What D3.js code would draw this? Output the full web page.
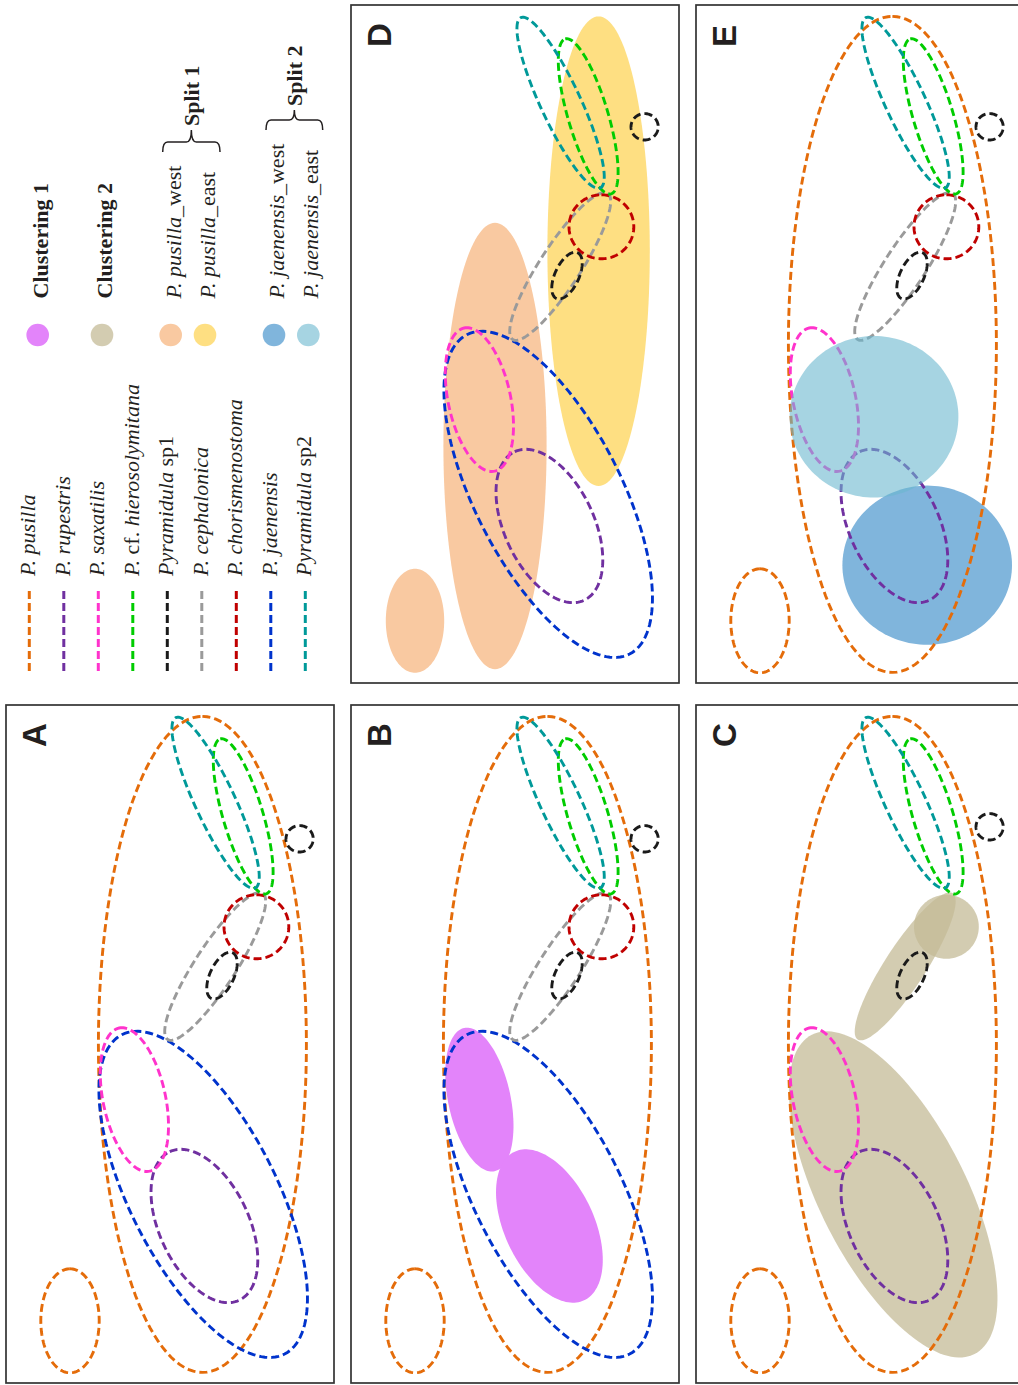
<!DOCTYPE html>
<html>
<head>
<meta charset="utf-8">
<script src="https://cdn.jsdelivr.net/npm/d3@7"></script>
<style>
  body { margin: 0; background: #fff; }
  svg { display: block; }
</style>
</head>
<body>
<div id="fig"></div>
<script>
// legend order of the species outlines
var species = ["P. pusilla", "P. rupestris", "P. saxatilis", "P. cf. hierosolymitana",
    "Pyramidula sp1", "P. cephalonica", "P. chorismenostoma", "P. jaenensis", "Pyramidula sp2"];

// ellipses in PC units: key, species, centre PC2, centre PC1, semi axis a, semi axis b, tilt of a (deg)
var ellipses = [
    ["pus1", "P. pusilla", 0.81, -0.01, 8.20, 2.60, 0],
    ["pus2", "P. pusilla", -2.50, -6.92, 1.30, 0.73, 0],
    ["jae", "P. jaenensis", 0.83, -3.76, 4.48, 1.83, -27],
    ["rup", "P. rupestris", 0.86, -4.55, 2.05, 1.12, -25],
    ["sax", "P. saxatilis", -0.89, -1.39, 1.83, 0.78, -12],
    ["ceph", "P. cephalonica", 1.13, 1.94, 2.18, 0.51, 33],
    ["chor", "P. chorismenostoma", 2.16, 2.93, 0.80, 0.81, 0],
    ["sp1b", "Pyramidula sp1", 1.30, 1.71, 0.63, 0.30, 25],
    ["sp1a", "Pyramidula sp1", 3.24, 5.13, 0.33, 0.34, 0],
    ["sp1c", "Pyramidula sp1", 3.24, 5.43, 0.33, 0.34, 0],
    ["hie", "P. cf. hierosolymitana", 1.83, 5.69, 2.02, 0.50, -16.5],
    ["sp2", "Pyramidula sp2", 1.14, 6.03, 2.35, 0.50, -25],
    ["pw", "P. pusilla_west", -0.50, -2.55, 5.58, 1.29, 0],
    ["pe", "P. pusilla_east", 2.09, 2.32, 5.87, 1.28, 0],
    ["jw", "P. jaenensis_west", 1.68, -5.53, 1.99, 2.12, 0],
    ["je", "P. jaenensis_east", 0.35, -1.82, 2.02, 2.11, 0]
];

// filled groups and the ellipses they cover
var groups = ["Clustering 1", "Clustering 2", "P. pusilla_west", "P. pusilla_east",
    "P. jaenensis_west", "P. jaenensis_east"];
var groupMembers = [
    ["Clustering 1", "sax"], ["Clustering 1", "rup"],
    ["Clustering 2", "jae"], ["Clustering 2", "ceph"], ["Clustering 2", "chor"],
    ["P. pusilla_west", "pw"], ["P. pusilla_west", "pus2"],
    ["P. pusilla_east", "pe"],
    ["P. jaenensis_west", "jw"],
    ["P. jaenensis_east", "je"]
];

var panelIds = ["A", "B", "C", "D", "E"];
var panelOutlines = {
    A: ["pus1", "pus2", "jae", "rup", "sax", "ceph", "chor", "sp1b", "sp1a", "hie", "sp2"],
    B: ["pus1", "pus2", "jae", "ceph", "chor", "sp1b", "sp1a", "hie", "sp2"],
    C: ["pus1", "pus2", "rup", "sax", "sp1b", "sp1c", "hie", "sp2"],
    D: ["jae", "rup", "sax", "ceph", "chor", "sp1b", "sp1c", "hie", "sp2"],
    E: ["pus1", "pus2", "rup", "sax", "ceph", "chor", "sp1b", "sp1c", "hie", "sp2"]
};
var panelFills = {
    A: [], B: ["Clustering 1"], C: ["Clustering 2"],
    D: ["P. pusilla_west", "P. pusilla_east"],
    E: ["P. jaenensis_west", "P. jaenensis_east"]
};

// styles
var lineColor = d3.scaleOrdinal().domain(species)
    .range(["#e46c0a", "#7030a0", "#ff33cc", "#00cc00", "#1a1a1a", "#9a9a9a", "#c00000", "#0033cc", "#009999"]);
var fillStyle = {
    "Clustering 1": { color: "#e384fa", opacity: 1 },
    "Clustering 2": { color: "#c4bb97", opacity: 0.75 },
    "P. pusilla_west": { color: "#f9c9a1", opacity: 1 },
    "P. pusilla_east": { color: "#fedf82", opacity: 1 },
    "P. jaenensis_west": { color: "#80b5dc", opacity: 1 },
    "P. jaenensis_east": { color: "#6bb7cf", opacity: 0.6, onTop: true }
};

var W = 1018, H = 1385, PW = 328, PH = 678;
var panelPos = { A: [6, 705], B: [351, 705], C: [696, 705], D: [351, 5], E: [696, 5] };

var svg = d3.select("#fig").append("svg").attr("width", W).attr("height", H);

var x = d3.scaleLinear().domain([-4.1, 4.1]).range([0, PW]);
var y = d3.scaleLinear().domain([8.475, -8.475]).range([0, PH]);

var byKey = {};
ellipses.forEach(function (e) {
    byKey[e[0]] = { key: e[0], sp: e[1], cx: e[2], cy: e[3], a: e[4], b: e[5], tilt: e[6] };
});

var line = d3.line().x(d => x(d[0])).y(d => y(d[1])).curve(d3.curveLinearClosed);
function ellipsePath(e) {
    var t = e.tilt * Math.PI / 180, pts = [];
    for (var i = 0; i < 144; i++) {
        var th = i / 144 * 2 * Math.PI;
        pts.push([e.cx + e.a * Math.cos(th) * Math.sin(t) + e.b * Math.sin(th) * Math.cos(t),
                  e.cy + e.a * Math.cos(th) * Math.cos(t) - e.b * Math.sin(th) * Math.sin(t)]);
    }
    return line(pts);
}

var serif = "'Liberation Serif', 'Times New Roman', serif";

function labelParts(name) {
    if (name.indexOf("cf.") >= 0) return [["P. ", true], ["cf. ", false], [name.split("cf. ")[1], true]];
    if (name.indexOf("Pyramidula") == 0) return [["Pyramidula", true], [name.slice(10), false]];
    if (name.indexOf("_") >= 0) {
        var k = name.indexOf("_");
        return [[name.slice(0, k), true], [name.slice(k), false]];
    }
    if (name.indexOf("P. ") == 0) return [[name, true]];
    return [[name, false, true]];
}

function vText(g, tx, ty, parts, size, bold) {
    var t = g.append("text")
        .attr("transform", "translate(" + tx + "," + ty + ") rotate(-90)")
        .attr("font-family", serif)
        .attr("font-size", size)
        .attr("fill", "#231f20");
    parts.forEach(function (p) {
        t.append("tspan").text(p[0])
            .attr("font-style", p[1] ? "italic" : "normal")
            .attr("font-weight", (bold || p[2]) ? "bold" : "normal");
    });
    return t;
}

// ---- legend ----
var legend = svg.append("g");
var lx = d3.scalePoint().domain(species).range([29.3, 305.3]);
species.forEach(function (s) {
    legend.append("line")
        .attr("x1", lx(s)).attr("x2", lx(s))
        .attr("y1", 591).attr("y2", 672)
        .attr("stroke", lineColor(s))
        .attr("stroke-width", 3)
        .attr("stroke-dasharray", "8,4");
    vText(legend, lx(s) + 6, 576, labelParts(s), 22);
});

var legendX = [37.7, 102, 170.7, 205, 274, 308.3];
groups.forEach(function (gname, i) {
    legend.append("circle")
        .attr("cx", legendX[i]).attr("cy", 335).attr("r", 11.3)
        .attr("fill", fillStyle[gname].color)
        .attr("fill-opacity", fillStyle[gname].opacity);
    vText(legend, legendX[i] + 9.8, 298.5, labelParts(gname), 22);
});

function brace(x1, x2, y0, y1, y2, label) {
    var xm = (x1 + x2) / 2, r = 5;
    var d = "M" + x1 + "," + y0 + " Q" + x1 + "," + y1 + " " + (x1 + r) + "," + y1 +
        " L" + (xm - r) + "," + y1 + " Q" + xm + "," + y1 + " " + xm + "," + y2 +
        " Q" + xm + "," + y1 + " " + (xm + r) + "," + y1 +
        " L" + (x2 - r) + "," + y1 + " Q" + x2 + "," + y1 + " " + x2 + "," + y0;
    legend.append("path").attr("d", d)
        .attr("fill", "none").attr("stroke", "#231f20").attr("stroke-width", 1.5);
    vText(legend, xm + 7.8, y2 - 4, [[label, false]], 22, true);
}
brace(legendX[2] - 8, legendX[3] + 15, 152, 142, 130, "Split 1");
brace(legendX[4] - 8, legendX[5] + 14.4, 130, 120, 110, "Split 2");

// ---- panels ----
panelIds.forEach(function (id) {
    var g = svg.append("g")
        .attr("transform", "translate(" + panelPos[id][0] + "," + panelPos[id][1] + ")");
    g.append("rect")
        .attr("width", PW).attr("height", PH)
        .attr("fill", "#fff").attr("stroke", "#333").attr("stroke-width", 1.7);

    var fills = groupMembers.filter(m => panelFills[id].indexOf(m[0]) >= 0);
    function drawFills(top) {
        fills.filter(m => !!fillStyle[m[0]].onTop == top).forEach(function (m) {
            g.append("path")
                .attr("d", ellipsePath(byKey[m[1]]))
                .attr("fill", fillStyle[m[0]].color)
                .attr("fill-opacity", fillStyle[m[0]].opacity);
        });
    }
    drawFills(false);

    g.selectAll("path.outline")
        .data(panelOutlines[id].map(k => byKey[k]))
        .enter().append("path")
        .attr("class", "outline")
        .attr("d", ellipsePath)
        .attr("fill", "none")
        .attr("stroke", d => lineColor(d.sp))
        .attr("stroke-width", 2.9)
        .attr("stroke-dasharray", "8,4");

    drawFills(true);

    g.append("text")
        .attr("transform", "translate(40,42) rotate(-90)")
        .attr("font-family", "'Liberation Sans Narrow', 'Liberation Sans', Arial, sans-serif")
        .attr("font-weight", "bold")
        .attr("font-size", 33)
        .attr("fill", "#231f20")
        .text(id);
});
</script>
</body>
</html>
